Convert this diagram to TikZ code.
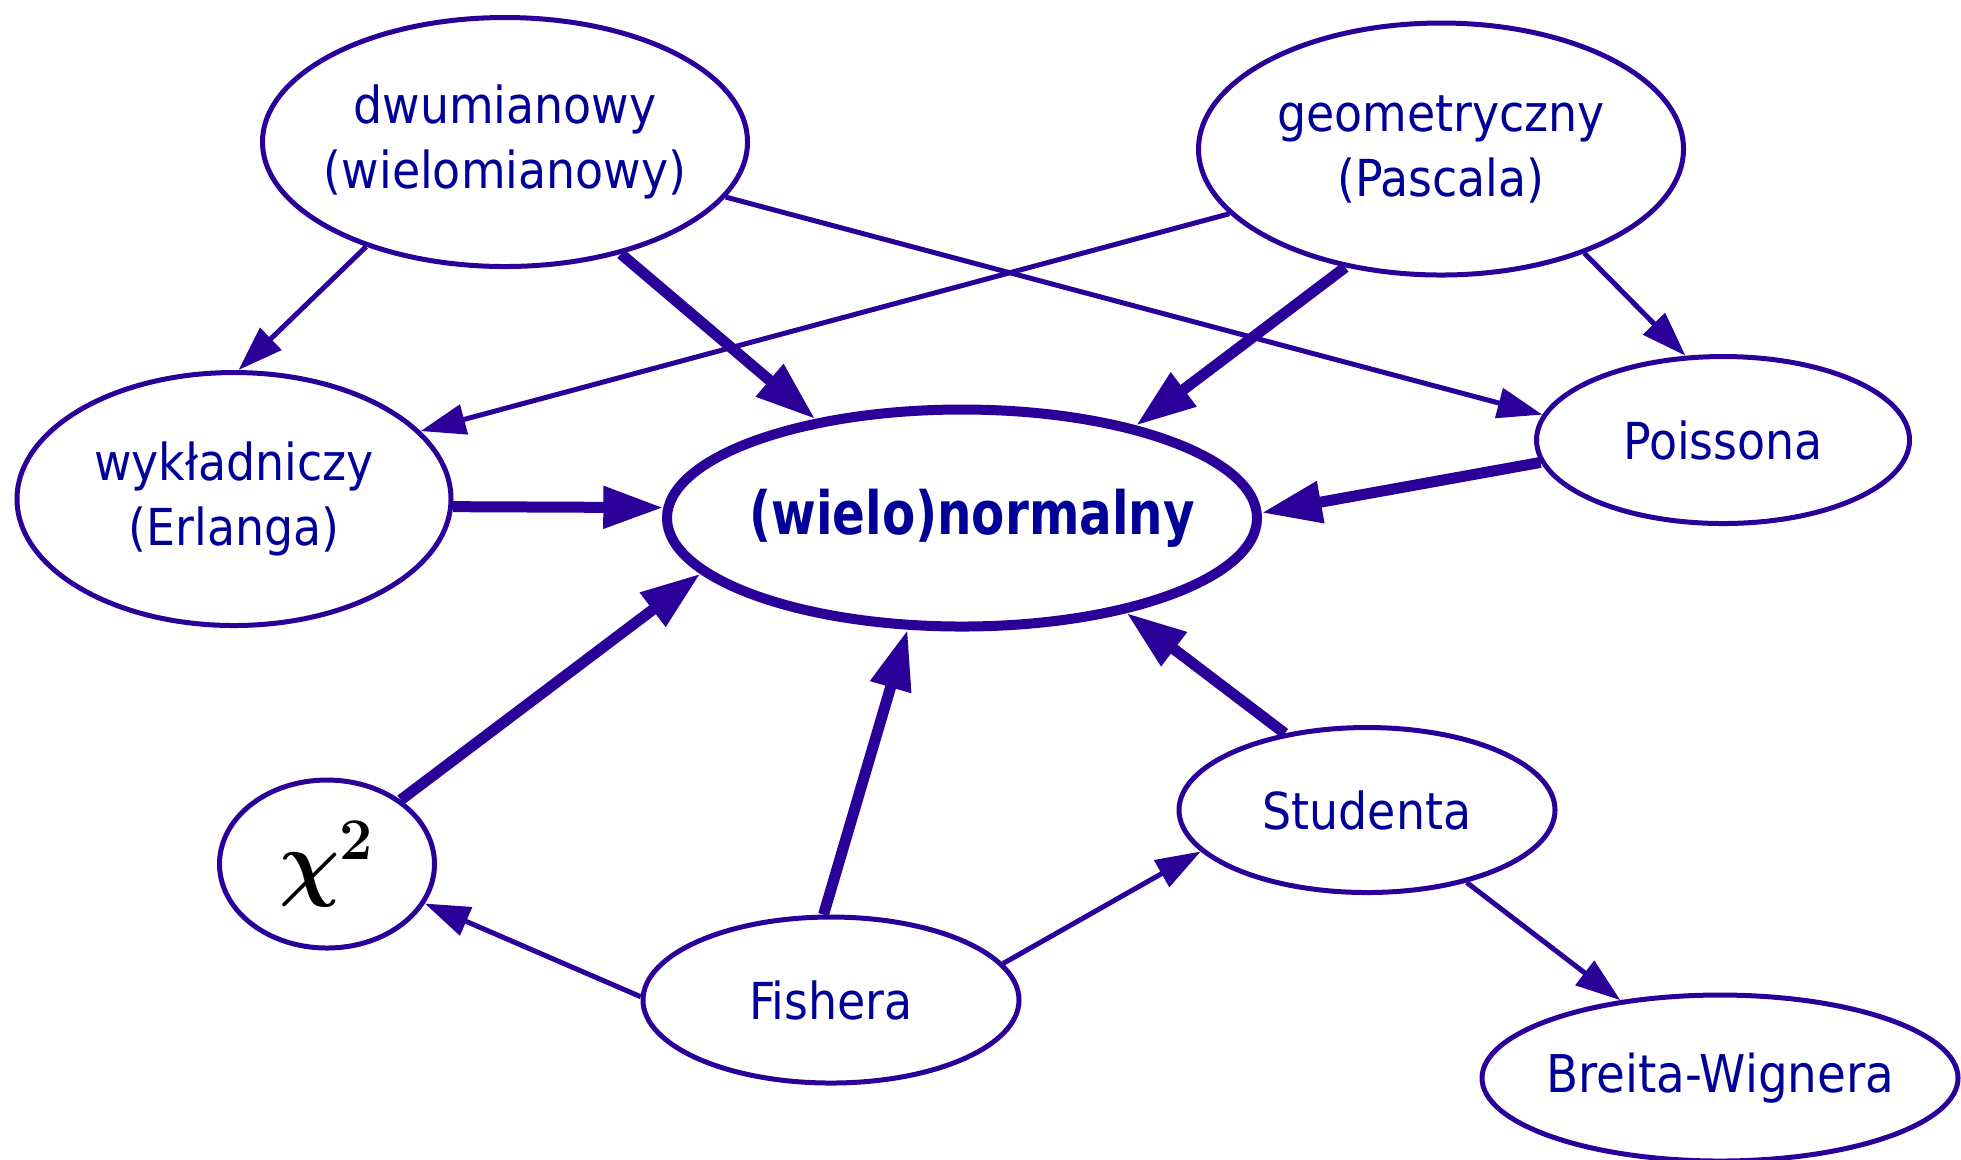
\RequirePackage{fix-cm}
\documentclass[tikz,border=0pt]{standalone}
\usepackage{bm}
\usepackage[no-math]{fontspec}
\setmainfont{DejaVu Sans Condensed}
\newfontfamily\normfont[FakeStretch=0.9]{DejaVu Sans Condensed}
\usetikzlibrary{shapes.geometric,arrows.meta}
\definecolor{edgecol}{RGB}{42,0,153}
\definecolor{textcol}{RGB}{0,0,153}

\begin{document}
\begin{tikzpicture}[
  dist/.style={ellipse, draw=edgecol, line width=0.05cm, fill=white, inner sep=-3mm, text=textcol, align=center, font=\fontsize{14.5}{18.5}\selectfont},
  mainnode/.style={dist, line width=0.1cm, font=\fontsize{17}{18}\selectfont\normfont\bfseries},
  link/.style={edgecol, line width=0.05cm, -{Triangle[length=0.45cm, width=0.3cm]}},
  limit/.style={edgecol, line width=0.11cm, -{Triangle[length=0.6cm, width=0.4cm]}}
]

\useasboundingbox (0,0) rectangle (19.61,-11.59);

% === Distributions ===
\node[dist, minimum width=4.85cm, minimum height=2.49cm] (dwu) at (5.05,-1.42) {dwumianowy\\(wielomianowy)};
\node[dist, minimum width=4.85cm, minimum height=2.52cm] (geo) at (14.41,-1.49) {geometryczny\\(Pascala)};
\node[dist, minimum width=4.34cm, minimum height=2.53cm] (wyk) at (2.34,-4.99) {wykładniczy\\(Erlanga)};
\node[mainnode, minimum width=5.90cm, minimum height=2.17cm] (norm) at (9.62,-5.18) {\hspace{0.2cm}(wielo)normalny};
\node[dist, minimum width=3.73cm, minimum height=1.67cm] (poi) at (17.23,-4.40) {Poissona};
\node[dist, minimum width=2.15cm, minimum height=1.68cm, text=black, font=\fontsize{24}{24}\selectfont] (chi) at (3.27,-8.64) {$\bm{\chi}^{\mathbf{2}}$};
\node[dist, minimum width=3.76cm, minimum height=1.65cm] (stu) at (13.67,-8.10) {Studenta};
\node[dist, minimum width=3.76cm, minimum height=1.66cm] (fish) at (8.31,-10.00) {Fishera};
\node[dist, minimum width=4.76cm, minimum height=1.66cm, font=\fontsize{14.8}{18.5}\selectfont] (bw) at (17.20,-10.78) {Breita-Wignera};

% === From dwumianowy / geometryczny ===
\draw[link] (dwu.217) -- (wyk.88);
\draw[limit] (dwu.316) -- (norm.146);
\draw[link] (dwu.346) -- (poi.172);
\draw[link] (geo.197) -- (wyk.20);
\draw[limit] (geo.231) -- (norm.28);
\draw[link] (geo.324) -- (poi.114);

% === Limits towards (wielo)normalny ===
\draw[limit] (wyk.358) -- (norm.178);
\draw[limit] (poi.187) -- (norm.1);
\draw[limit] (chi.41) -- (norm.192);
\draw[limit] (fish.95) -- (norm.244);
\draw[limit] (stu.137) -- (norm.330);

% === Fishera and Studenta ===
\draw[link] (fish.179) -- (chi.338);
\draw[link] (fish.12) -- (stu.194);
\draw[link] (stu.324) -- (bw.142);

\end{tikzpicture}
\end{document}
